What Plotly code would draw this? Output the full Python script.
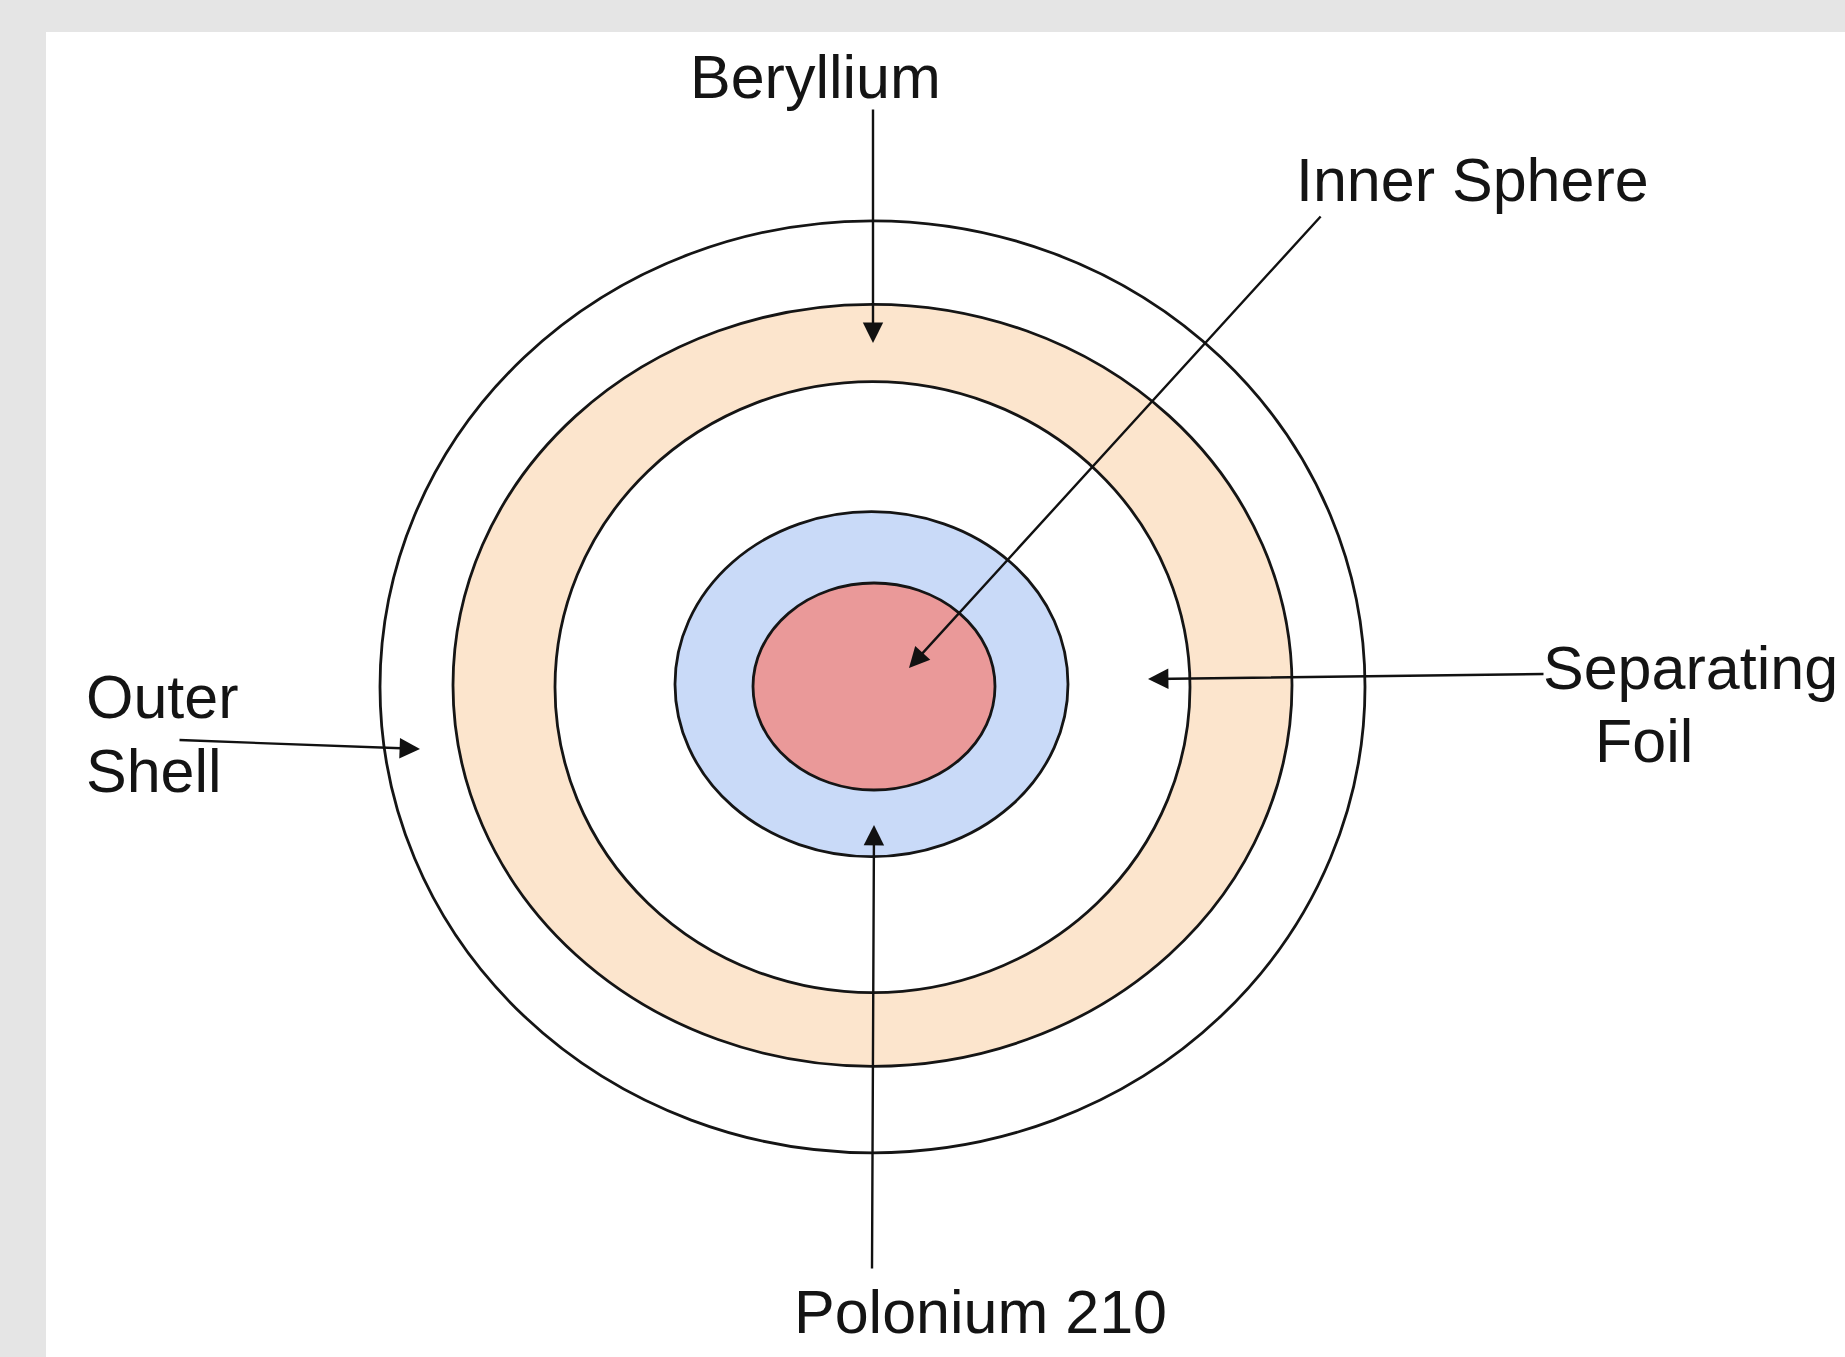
import plotly.graph_objects as go

# ---- data (pixel-space diagram coordinates) ----
ring_names = ["Outer Shell", "Beryllium outer", "Beryllium inner", "Inner Sphere", "Polonium core"]
ring_cx = [872.5, 872.5, 872.5, 871.5, 874.0]
ring_cy = [686.8, 685.3, 687.2, 684.2, 686.5]
ring_rx = [492.5, 419.5, 317.5, 196.5, 121.0]
ring_ry = [466.0, 381.0, 305.5, 172.5, 103.5]
ring_fill = ["#ffffff", "#fce5cd", "#ffffff", "#c9daf8", "#ea9999"]

label_text = ["Beryllium", "Inner Sphere", "Outer", "Shell", "Separating", "Foil", "Polonium 210"]
label_x = [815, 1472, 84, 84, 1541, 1593, 980]
label_y = [77, 180, 697, 771, 668, 741, 1312]
label_anchor = ["center", "center", "left", "left", "left", "left", "center"]

arrow_tail_x = [873, 1322, 178, 1545, 872]
arrow_tail_y = [108, 215, 740, 674, 1270]
arrow_head_x = [873, 909, 420, 1148, 874]
arrow_head_y = [343, 668, 749, 679, 825]

W, H = 1845, 1357
LEFT, TOP = 46, 32

fig = go.Figure()
fig.add_trace(go.Scatter(x=[LEFT, W], y=[TOP, H], mode="markers",
                         marker=dict(opacity=0), hoverinfo="skip", showlegend=False))

for cx, cy, rx, ry, col in zip(ring_cx, ring_cy, ring_rx, ring_ry, ring_fill):
    fig.add_shape(type="circle", xref="x", yref="y",
                  x0=cx - rx, x1=cx + rx, y0=cy - ry, y1=cy + ry,
                  fillcolor=col, line=dict(color="#151515", width=2.8), layer="above")

for t, x, y, a in zip(label_text, label_x, label_y, label_anchor):
    fig.add_annotation(x=x, y=y, xref="x", yref="y", text=t, showarrow=False,
                       xanchor=a, yanchor="middle",
                       font=dict(family="Liberation Sans, Arial, sans-serif", size=61, color="#141414"))

for tx, ty, hx, hy in zip(arrow_tail_x, arrow_tail_y, arrow_head_x, arrow_head_y):
    fig.add_annotation(x=hx, y=hy, ax=tx, ay=ty, xref="x", yref="y", axref="x", ayref="y",
                       text="", showarrow=True, arrowhead=2, arrowsize=1.7,
                       arrowwidth=2.4, arrowcolor="#111111", standoff=0, startstandoff=0)

fig.update_xaxes(range=[LEFT, W], visible=False, fixedrange=True)
fig.update_yaxes(range=[H, TOP], visible=False, fixedrange=True)
fig.update_layout(width=W, height=H, margin=dict(l=LEFT, t=TOP, r=0, b=0, pad=0),
                  paper_bgcolor="#e5e5e5", plot_bgcolor="#ffffff", showlegend=False)

fig.write_html("out.html", post_script="document.body.style.margin='0';document.body.style.overflow='hidden';",
               config={"displayModeBar": False})
